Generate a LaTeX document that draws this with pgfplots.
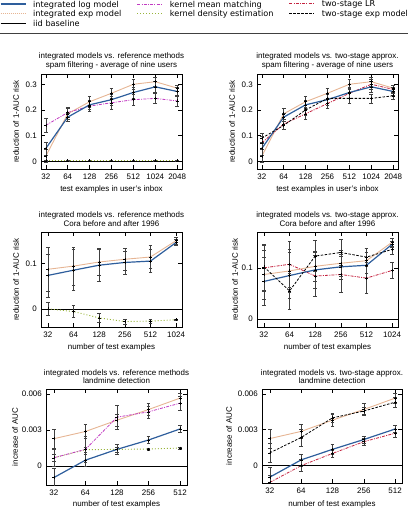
\documentclass[border=0pt]{standalone}
\usepackage{fontspec}
\setmainfont{Liberation Sans}
\newfontfamily\legfont{DejaVu Sans}
\newcommand\legtext[1]{{\legfont\fontsize{8.2}{9.5}\selectfont#1}}
\usepackage{pgfplots}
\pgfplotsset{compat=1.18}
\definecolor{clog}{HTML}{2E5E9C}
\definecolor{cexp}{HTML}{E6B594}
\definecolor{ckmm}{HTML}{C23BC2}
\definecolor{ckde}{HTML}{98B43A}
\definecolor{clr}{HTML}{C4223F}
\tikzset{
 slog/.style={clog, line width=1.2bp, solid},
 sexp/.style={cexp, line width=0.9bp, solid},
 sexpleg/.style={cexp, line width=0.9bp, dash pattern=on 0.8bp off 1.2bp},
 siid/.style={black, line width=0.6bp, solid},
 skmm/.style={ckmm, line width=0.8bp, dash pattern=on 3bp off 1.2bp on 1bp off 1.2bp},
 skde/.style={ckde, line width=0.9bp, dash pattern=on 1bp off 2bp},
 slr/.style={clr, line width=0.8bp, dash pattern=on 3bp off 1.2bp on 1bp off 1.2bp},
 s2e/.style={black, line width=0.8bp, dash pattern=on 2.5bp off 1.5bp},
}
\pgfplotsset{
 panel/.style={scale only axis, width=141bp, height=95bp, anchor=north west,
  axis line style={black, line width=0.6bp},
  tick style={black, line width=0.5bp}, major tick length=4bp, tick align=inside,
  font=\fontsize{8}{8.7}\selectfont,
  /pgf/number format/assume math mode=true,
  scaled y ticks=false,
  yticklabel style={/pgf/number format/fixed, /pgf/number format/precision=3, inner sep=0pt, xshift=-4bp, font=\fontsize{8}{8.7}\selectfont},
  xticklabel style={inner sep=0pt, yshift=-4.5bp, font=\fontsize{8}{8.7}\selectfont},
  every axis title/.style={at={(axis description cs:0.5,1.138)}, anchor=center, align=center, inner sep=0pt, font=\fontsize{8}{8.7}\selectfont},
  every axis x label/.style={at={(axis description cs:0.5,-0.214)}, anchor=center, inner sep=0pt, font=\fontsize{8}{8.7}\selectfont},
  every axis y label/.style={at={(axis description cs:-0.177,0.5)}, rotate=90, anchor=center, inner sep=0pt, font=\fontsize{8}{8.7}\selectfont},
  clip=true,
 },
 eb/.style={mark=+, mark size=1.5bp, mark options={black, solid, line width=0.5bp},
  error bars/.cd, y dir=both, y explicit,
  error bar style={draw=black!75, line width=0.5bp, solid},
  error mark options={black!75, rotate=90, mark size=1.8bp, line width=0.5bp, solid}},
 legpanel/.style={hide axis, scale only axis, width=1bp, height=1bp, xmin=0, xmax=1, ymin=0, ymax=1, anchor=north west,
  legend cell align=left,
  legend style={at={(0,1)}, anchor=north west, draw=none, fill=none, inner sep=0pt, outer sep=0pt,
   column sep=7bp, row sep=3.3bp, nodes={inner sep=0pt, text depth=0pt}},
  legend image code/.code={\draw[##1] (0bp,0bp) -- (25bp,0bp);}},
}
\begin{document}
\begin{tikzpicture}
\useasboundingbox (0,0) rectangle (408bp,-511bp);
% ---------------- legend ----------------
\begin{axis}[legpanel, at={(0bp,-0.8bp)}]
\addlegendimage{slog}\addlegendentry{\legtext{integrated log model}}
\addlegendimage{sexpleg}\addlegendentry{\legtext{integrated exp model}}
\addlegendimage{siid}\addlegendentry{\legtext{iid baseline}}
\end{axis}
\begin{axis}[legpanel, at={(137bp,-0.8bp)}]
\addlegendimage{skmm}\addlegendentry{\legtext{kernel mean matching}}
\addlegendimage{skde}\addlegendentry{\legtext{kernel density estimation}}
\end{axis}
\begin{axis}[legpanel, at={(289bp,-0.8bp)}]
\addlegendimage{slr}\addlegendentry{\legtext{two-stage LR}}
\addlegendimage{s2e}\addlegendentry{\legtext{two-stage exp model}}
\end{axis}
\draw[line width=0.8bp, black!75] (0bp,-33bp) -- (408bp,-33bp);
% ---------------- top left ----------------
\begin{axis}[panel, at={(41bp,-74bp)}, xmin=-0.22, xmax=6.22, ymin=-0.03, ymax=0.34,
  xtick={0,...,6}, xticklabels={32,64,128,256,512,1024,2048}, ytick={0,0.1,0.2,0.3},
  title={integrated models vs. reference methods\\spam filtering - average of nine users},
  xlabel={test examples in user's inbox}, ylabel={reduction of 1-AUC risk}]
\addplot[siid] coordinates {(-0.22,0) (6.22,0)};
\addplot[skde, eb] coordinates {(0,0.002)+-(0,0.002) (1,0.002)+-(0,0.002) (2,0.002)+-(0,0.002) (3,0.002)+-(0,0.002) (4,0.002)+-(0,0.002) (5,0.002)+-(0,0.002) (6,0.002)+-(0,0.002)};
\addplot[sexp, eb] coordinates {(0,0.020)+-(0,0.025) (1,0.185)+-(0,0.020) (2,0.232)+-(0,0.020) (3,0.265)+-(0,0.018) (4,0.300)+-(0,0.020) (5,0.310)+-(0,0.018) (6,0.285)+-(0,0.012)};
\addplot[skmm, eb] coordinates {(0,0.140)+-(0,0.028) (1,0.190)+-(0,0.020) (2,0.215)+-(0,0.022) (3,0.228)+-(0,0.025) (4,0.240)+-(0,0.022) (5,0.245)+-(0,0.020) (6,0.235)+-(0,0.020)};
\addplot[slog, eb] coordinates {(0,0.050)+-(0,0.025) (1,0.172)+-(0,0.015) (2,0.220)+-(0,0.018) (3,0.240)+-(0,0.020) (4,0.268)+-(0,0.022) (5,0.290)+-(0,0.020) (6,0.272)+-(0,0.015)};
\end{axis}
% ---------------- top right ----------------
\begin{axis}[panel, at={(257bp,-74bp)}, xmin=-0.22, xmax=6.22, ymin=-0.03, ymax=0.34,
  xtick={0,...,6}, xticklabels={32,64,128,256,512,1024,2048}, ytick={0,0.1,0.2,0.3},
  title={integrated models vs. two-stage approx.\\spam filtering - average of nine users},
  xlabel={test examples in user's inbox}, ylabel={reduction of 1-AUC risk}]
\addplot[siid] coordinates {(-0.22,0) (6.22,0)};
\addplot[sexp, eb] coordinates {(0,0.020)+-(0,0.025) (1,0.185)+-(0,0.020) (2,0.232)+-(0,0.020) (3,0.265)+-(0,0.018) (4,0.300)+-(0,0.020) (5,0.310)+-(0,0.018) (6,0.285)+-(0,0.012)};
\addplot[slr, eb] coordinates {(0,0.072)+-(0,0.025) (1,0.145)+-(0,0.020) (2,0.185)+-(0,0.020) (3,0.225)+-(0,0.020) (4,0.265)+-(0,0.020) (5,0.300)+-(0,0.020) (6,0.280)+-(0,0.015)};
\addplot[slog, eb] coordinates {(0,0.050)+-(0,0.025) (1,0.172)+-(0,0.015) (2,0.220)+-(0,0.018) (3,0.240)+-(0,0.020) (4,0.268)+-(0,0.022) (5,0.290)+-(0,0.020) (6,0.272)+-(0,0.015)};
\addplot[s2e, eb] coordinates {(0,0.090)+-(0,0.020) (1,0.140)+-(0,0.015) (2,0.200)+-(0,0.020) (3,0.245)+-(0,0.020) (4,0.245)+-(0,0.020) (5,0.245)+-(0,0.018) (6,0.255)+-(0,0.015)};
\end{axis}
% ---------------- middle left ----------------
\begin{axis}[panel, at={(41bp,-232bp)}, xmin=-0.27, xmax=5.23, ymin=-0.04, ymax=0.169,
  xtick={0,...,5}, xticklabels={32,64,128,256,512,1024}, ytick={0,0.1},
  title={integrated models vs. reference methods\\Cora before and after 1996},
  xlabel={number of test examples}, ylabel={reduction of 1-AUC risk}]
\addplot[siid] coordinates {(-0.27,0) (5.23,0)};
\addplot[skde, eb] coordinates {(0,0.000)+-(0,0.015) (1,-0.006)+-(0,0.013) (2,-0.020)+-(0,0.010) (3,-0.028)+-(0,0.006) (4,-0.027)+-(0,0.005) (5,-0.024)+-(0,0.002)};
\addplot[sexp, eb] coordinates {(0,0.087)+-(0,0.048) (1,0.094)+-(0,0.042) (2,0.103)+-(0,0.030) (3,0.109)+-(0,0.025) (4,0.114)+-(0,0.025) (5,0.150)+-(0,0.008)};
\addplot[slog, eb] coordinates {(0,0.0735)+-(0,0.047) (1,0.085)+-(0,0.045) (2,0.096)+-(0,0.035) (3,0.102)+-(0,0.025) (4,0.105)+-(0,0.025) (5,0.146)+-(0,0.006)};
\end{axis}
% ---------------- middle right ----------------
\begin{axis}[panel, at={(257bp,-232bp)}, xmin=-0.27, xmax=5.23, ymin=-0.0155, ymax=0.17,
  xtick={0,...,5}, xticklabels={32,64,128,256,512,1024}, ytick={0,0.1},
  title={integrated models vs. two-stage approx.\\Cora before and after 1996},
  xlabel={number of test examples}, ylabel={reduction of 1-AUC risk},
  every axis y label/.style={at={(axis description cs:-0.156,0.5)}, rotate=90, anchor=center, inner sep=0pt, font=\fontsize{8}{8.7}\selectfont}]
\addplot[siid] coordinates {(-0.27,0) (5.23,0)};
\addplot[sexp, eb] coordinates {(0,0.087)+-(0,0.048) (1,0.094)+-(0,0.042) (2,0.103)+-(0,0.030) (3,0.109)+-(0,0.025) (4,0.114)+-(0,0.025) (5,0.150)+-(0,0.008)};
\addplot[slr, eb] coordinates {(0,0.100)+-(0,0.045) (1,0.107)+-(0,0.045) (2,0.084)+-(0,0.040) (3,0.087)+-(0,0.035) (4,0.080)+-(0,0.030) (5,0.095)+-(0,0.015)};
\addplot[slog, eb] coordinates {(0,0.0735)+-(0,0.047) (1,0.085)+-(0,0.045) (2,0.096)+-(0,0.035) (3,0.102)+-(0,0.025) (4,0.105)+-(0,0.025) (5,0.146)+-(0,0.006)};
\addplot[s2e, eb] coordinates {(0,0.102)+-(0,0.045) (1,0.055)+-(0,0.035) (2,0.123)+-(0,0.030) (3,0.130)+-(0,0.025) (4,0.121)+-(0,0.018) (5,0.136)+-(0,0.010)};
\end{axis}
% ---------------- bottom left ----------------
\begin{axis}[panel, at={(46bp,-389bp)}, height=96bp, xmin=-0.25, xmax=4.22, ymin=-0.0016, ymax=0.0064,
  xtick={0,...,4}, xticklabels={32,64,128,256,512}, ytick={0,0.003,0.006},
  title={integrated models vs. reference methods\\landmine detection},
  xlabel={number of test examples}, ylabel={increase of AUC},
  every axis title/.style={at={(axis description cs:0.5,1.13)}, anchor=center, align=center, inner sep=0pt, font=\fontsize{8}{8.7}\selectfont},
  every axis x label/.style={at={(axis description cs:0.5,-0.2)}, anchor=center, inner sep=0pt, font=\fontsize{8}{8.7}\selectfont},
  every axis y label/.style={at={(axis description cs:-0.22,0.5)}, rotate=90, anchor=center, inner sep=0pt, font=\fontsize{8}{8.7}\selectfont}]
\addplot[siid] coordinates {(-0.25,0) (4.22,0)};
\addplot[skde, eb] coordinates {(0,0.00067)+-(0,0.0003) (1,0.00134)+-(0,0.0002) (2,0.00137)+-(0,0.0002) (3,0.00140)+-(0,0.0001) (4,0.00148)+-(0,0.0001)};
\addplot[sexp, eb] coordinates {(0,0.00226)+-(0,0.0008) (1,0.00286)+-(0,0.0006) (2,0.00380)+-(0,0.0005) (3,0.00469)+-(0,0.0005) (4,0.00564)+-(0,0.0004)};
\addplot[skmm, eb] coordinates {(0,0.00067)+-(0,0.0007) (1,0.00137)+-(0,0.0011) (2,0.00405)+-(0,0.0010) (3,0.00450)+-(0,0.0005) (4,0.00522)+-(0,0.0006)};
\addplot[slog, eb] coordinates {(0,-0.00098)+-(0,0.0008) (1,0.00047)+-(0,0.0005) (2,0.00137)+-(0,0.0004) (3,0.00215)+-(0,0.0003) (4,0.00307)+-(0,0.0003)};
\end{axis}
% ---------------- bottom right ----------------
\begin{axis}[panel, at={(262bp,-389bp)}, width=140bp, height=94bp, xmin=-0.25, xmax=4.22, ymin=-0.00145, ymax=0.0064,
  xtick={0,...,4}, xticklabels={32,64,128,256,512}, ytick={0,0.003,0.006},
  title={integrated models vs. two-stage approx.\\landmine detection},
  xlabel={number of test examples}, ylabel={increase of AUC},
  every axis title/.style={at={(axis description cs:0.5,1.13)}, anchor=center, align=center, inner sep=0pt, font=\fontsize{8}{8.7}\selectfont},
  every axis x label/.style={at={(axis description cs:0.5,-0.23)}, anchor=center, inner sep=0pt, font=\fontsize{8}{8.7}\selectfont},
  every axis y label/.style={at={(axis description cs:-0.235,0.5)}, rotate=90, anchor=center, inner sep=0pt, font=\fontsize{8}{8.7}\selectfont}]
\addplot[siid] coordinates {(-0.25,0) (4.22,0)};
\addplot[sexp, eb] coordinates {(0,0.00226)+-(0,0.0008) (1,0.00286)+-(0,0.0006) (2,0.00380)+-(0,0.0005) (3,0.00469)+-(0,0.0005) (4,0.00564)+-(0,0.0004)};
\addplot[slr, eb] coordinates {(0,-0.00140)+-(0,0.0006) (1,0.00000)+-(0,0.0005) (2,0.00102)+-(0,0.0003) (3,0.00200)+-(0,0.0003) (4,0.00271)+-(0,0.0003)};
\addplot[slog, eb] coordinates {(0,-0.00096)+-(0,0.0008) (1,0.00048)+-(0,0.0005) (2,0.00136)+-(0,0.0004) (3,0.00218)+-(0,0.0003) (4,0.00306)+-(0,0.0003)};
\addplot[s2e, eb] coordinates {(0,0.00107)+-(0,0.0008) (1,0.00235)+-(0,0.0007) (2,0.00399)+-(0,0.0004) (3,0.00456)+-(0,0.0003) (4,0.00530)+-(0,0.0004)};
\end{axis}
\end{tikzpicture}
\end{document}
